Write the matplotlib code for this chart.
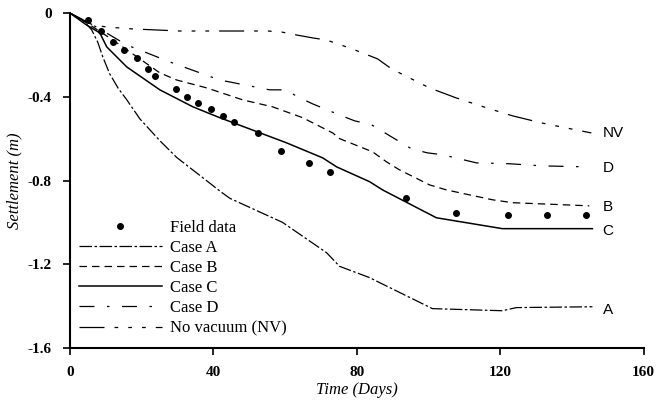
import matplotlib.pyplot as plt

# Field data (days, settlement m)
field_days = [5.0, 8.7, 12.0, 15.1, 18.7, 21.8, 23.7, 29.6, 32.7, 35.8, 39.4, 42.7,
              45.8, 52.5, 58.9, 66.8, 72.6, 93.6, 107.8, 122.1, 133.0, 143.9]
field_settle = [-0.033, -0.086, -0.138, -0.177, -0.215, -0.267, -0.30, -0.363, -0.40,
                -0.43, -0.458, -0.49, -0.52, -0.573, -0.659, -0.716, -0.76, -0.883,
                -0.955, -0.965, -0.965, -0.965]

# Case A
a_days = [0, 4.0, 6.1, 7.8, 9.2, 11.1, 13.5, 15.9, 19.5, 25.1, 29.8, 36.2, 41.8, 44.6,
          59.3, 71.6, 75.2, 83.6, 86.4, 101.1, 120.6, 124.5, 145.7]
a_settle = [0, -0.04, -0.081, -0.14, -0.21, -0.29, -0.36, -0.415, -0.505, -0.61, -0.69,
            -0.775, -0.85, -0.885, -1.00, -1.145, -1.21, -1.264, -1.288, -1.412,
            -1.422, -1.407, -1.403]

# Case B
b_days = [0, 5.0, 12.0, 25.1, 29.8, 38.2, 48.2, 56.5, 64.9, 73.3, 75.2, 84.4, 88.3,
          91.9, 100.3, 105.0, 117.8, 123.4, 144.8]
b_settle = [0, -0.05, -0.129, -0.286, -0.32, -0.358, -0.415, -0.448, -0.50, -0.573,
            -0.60, -0.663, -0.711, -0.749, -0.821, -0.845, -0.892, -0.906, -0.921]

# Case C
c_days = [0, 4.65, 8.36, 10.3, 15.9, 25.1, 34.3, 41.8, 60.4, 70.5, 74.4, 83.6, 87.2,
          102.2, 120.6, 145.7]
c_settle = [0, -0.057, -0.095, -0.162, -0.258, -0.367, -0.448, -0.50, -0.62, -0.692,
            -0.735, -0.806, -0.845, -0.978, -1.03, -1.03]

# Case D
d_days = [0, 6.4, 15.9, 28.7, 41.8, 55.7, 60.2, 63.5, 67.7, 75.2, 79.4, 84.1, 91.1,
          95.3, 99.7, 103.9, 113.4, 122.6, 131.5, 144.3]
d_settle = [0, -0.057, -0.153, -0.239, -0.32, -0.367, -0.367, -0.40, -0.434, -0.487,
            -0.515, -0.534, -0.606, -0.649, -0.668, -0.677, -0.716, -0.72, -0.73, -0.735]

# No vacuum (NV)
nv_days = [0, 6.4, 10.3, 17.5, 30.6, 47.4, 55.2, 59.1, 63.2, 67.7, 71.6, 78.8, 85.8,
           89.7, 100.3, 107.8, 116.2, 123.4, 131.5, 145.4]
nv_settle = [0, -0.057, -0.067, -0.076, -0.086, -0.086, -0.086, -0.091, -0.105, -0.119,
             -0.129, -0.172, -0.219, -0.267, -0.358, -0.406, -0.453, -0.491, -0.525, -0.573]

end_labels = ['NV', 'D', 'B', 'C', 'A']
end_label_y = [-0.575, -0.742, -0.927, -1.04, -1.42]

serif = 'Liberation Serif'

fig = plt.figure(figsize=(6.65, 4.0), dpi=100)
ax = fig.add_axes([0.105, 0.13, 0.863, 0.8375])

ax.plot(field_days, field_settle, 'o', color='black', markersize=4, label='Field data')
ax.plot(a_days, a_settle, color='black', lw=0.9, dashes=[10, 2, 2, 2], label='Case A')
ax.plot(b_days, b_settle, color='black', lw=0.9, dashes=[6, 4], label='Case B')
ax.plot(c_days, c_settle, color='black', lw=1.1, label='Case C')
ax.plot(d_days, d_settle, color='black', lw=0.9, dashes=[12, 10, 2, 10], label='Case D')
ax.plot(nv_days, nv_settle, color='black', lw=0.9, dashes=[20, 8, 3, 8, 3, 8, 3, 8],
        label='No vacuum (NV)')

for lab, yv in zip(end_labels, end_label_y):
    ax.text(148.5, yv, lab, fontsize=11, family='Liberation Sans', va='center', ha='left')

ax.set_xlim(0, 160)
ax.set_ylim(-1.6, 0)
ax.set_xticks([0, 40, 80, 120, 160])
ax.set_yticks([-1.6, -1.2, -0.8, -0.4, 0])
ax.set_yticklabels(['-1.6', '-1.2', '-0.8', '-0.4', '0'])

for s in ['top', 'right']:
    ax.spines[s].set_visible(False)
for s in ['left', 'bottom']:
    ax.spines[s].set_linewidth(1.5)

ax.tick_params(direction='out', length=5, width=1.2, labelsize=11, pad=8)
for t in ax.get_xticklabels() + ax.get_yticklabels():
    t.set_family(serif)
    t.set_weight('bold')

ax.set_xlabel('Time (Days)', family=serif, style='italic', fontsize=12, labelpad=2)
ax.set_ylabel('Settlement (m)', family=serif, style='italic', fontsize=12, labelpad=4)

leg = ax.legend(loc='lower left', bbox_to_anchor=(-0.005, 0.0), frameon=False,
                prop={'family': serif, 'size': 12}, handlelength=5.0,
                labelspacing=0.25, borderaxespad=0.3, handletextpad=0.5)

plt.savefig('out.png', dpi=100)
plt.close()
